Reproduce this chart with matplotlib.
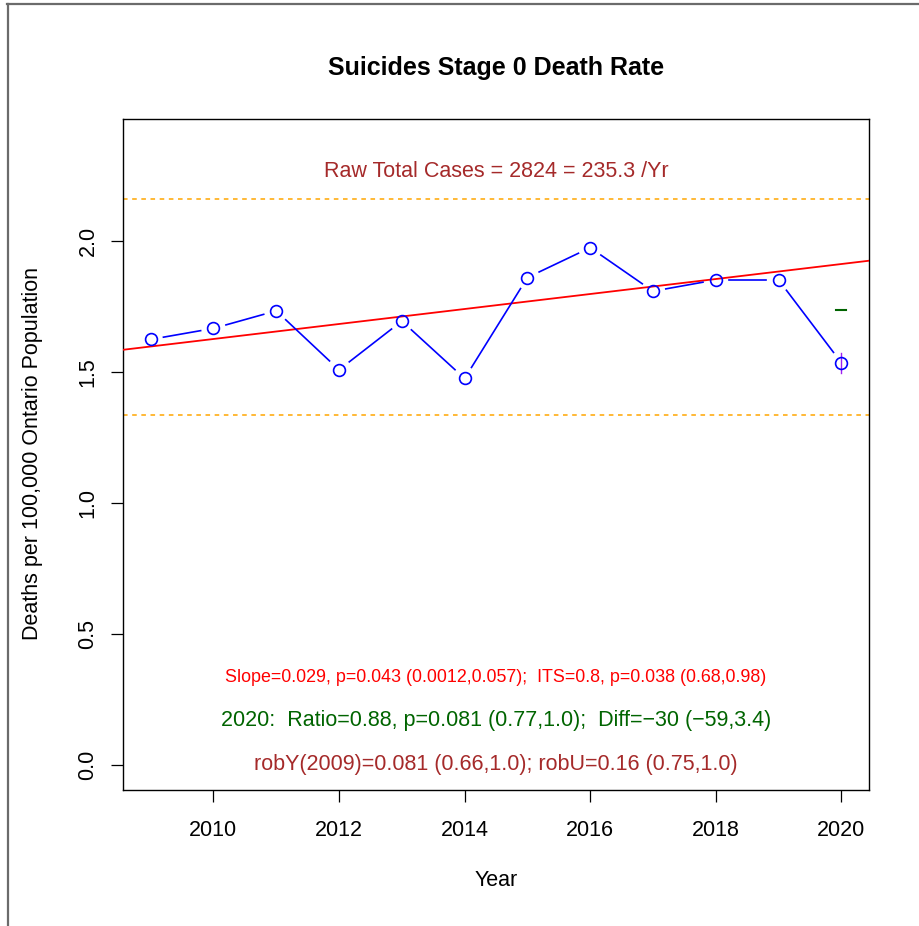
import matplotlib
matplotlib.use("Agg")
import matplotlib.pyplot as plt
from matplotlib.lines import Line2D
import numpy as np

plt.rcParams['font.family'] = ['Liberation Sans', 'DejaVu Sans']

# Annual suicide death rate per 100,000 (Stage 0)
years = [2009, 2010, 2011, 2012, 2013, 2014, 2015, 2016, 2017, 2018, 2019, 2020]
rates = [1.624, 1.666, 1.733, 1.508, 1.694, 1.475, 1.860, 1.974, 1.808, 1.851, 1.851, 1.535]

# Linear trend fitted to the pre-2020 years
trend_intercept_2009 = 1.597
trend_slope = 0.0286

# Expected 2020 value and the 2020 interval
expected_2020 = 1.735
interval_2020 = [1.495, 1.573]

# Reference band
band_lower = 1.337
band_upper = 2.159

title = "Suicides Stage 0 Death Rate"
xlabel = "Year"
ylabel = "Deaths per 100,000 Ontario Population"
x_ticks = [2010, 2012, 2014, 2016, 2018, 2020]
y_ticks = [0.0, 0.5, 1.0, 1.5, 2.0]
y_max = 2.37

txt_total = "Raw Total Cases = 2824 = 235.3 /Yr"
txt_slope = "Slope=0.029, p=0.043 (0.0012,0.057);  ITS=0.8, p=0.038 (0.68,0.98)"
txt_ratio = "2020:  Ratio=0.88, p=0.081 (0.77,1.0);  Diff=\u221230 (\u221259,3.4)"
txt_rob = "robY(2009)=0.081 (0.66,1.0); robU=0.16 (0.75,1.0)"

W, H = 919, 926
DPI = 100
FS = 15.5
fig = plt.figure(figsize=(W / DPI, H / DPI), dpi=DPI)

# plotting region in pixels: left, right, top, bottom
L, R, T, B = 123, 869, 119, 790
ax = fig.add_axes([L / W, 1 - B / H, (R - L) / W, (B - T) / H])

# R-style 4% padding around the data range
x0, x1 = min(years), max(years)
dx = 0.04 * (x1 - x0)
ax.set_xlim(x0 - dx, x1 + dx)
dy = 0.04 * y_max
ax.set_ylim(0 - dy, y_max + dy)

# reference band (dashed orange)
ax.axhline(band_upper, color='#FFA500', lw=1.1, ls=(0, (3, 3)))
ax.axhline(band_lower, color='#FFA500', lw=1.1, ls=(0, (3, 3)))

# trend line across the whole panel
xl = np.array(ax.get_xlim())
ax.plot(xl, trend_intercept_2009 + trend_slope * (xl - 2009), color='#FF0000', lw=1.3, zorder=3)

# points joined by segments with gaps around the markers
fig.canvas.draw()
disp = ax.transData.transform(np.column_stack([years, rates]))
gap = 13.0
inv = ax.transData.inverted()
for i in range(len(years) - 1):
    p, q = disp[i], disp[i + 1]
    d = q - p
    n = np.hypot(*d)
    if n <= 2 * gap:
        continue
    u = d / n
    a = inv.transform(p + u * gap)
    b = inv.transform(q - u * gap)
    ax.plot([a[0], b[0]], [a[1], b[1]], color='#0000FF', lw=1.2, zorder=4)

ax.plot(years, rates, ls='none', marker='o', ms=8.5, mfc='none', mec='#0000FF', mew=1.2, zorder=5)

# 2020 interval and expected value
ax.plot([years[-1], years[-1]], interval_2020, color='#A020F0', lw=1.0, zorder=4)
ax.plot([years[-1] - 0.08, years[-1] + 0.08], [expected_2020, expected_2020], color='#006400', lw=1.5, zorder=4)

xc = (x0 + x1) / 2
ax.text(xc, 2.265, txt_total, color='#A52A2A', fontsize=FS, ha='center', va='center')
ax.text(xc, 0.333, txt_slope, color='#FF0000', fontsize=12.9, ha='center', va='center')
ax.text(xc, 0.172, txt_ratio, color='#006400', fontsize=FS, ha='center', va='center')
ax.text(xc, 0.004, txt_rob, color='#A52A2A', fontsize=FS, ha='center', va='center')

ax.set_xticks(x_ticks)
ax.set_xticklabels([str(v) for v in x_ticks])
ax.set_yticks(y_ticks)
ax.set_yticklabels([f"{v:.1f}" for v in y_ticks], rotation=90, va='center')
ax.tick_params(axis='both', length=8.6, width=0.9, labelsize=FS, colors='black')
ax.tick_params(axis='x', pad=13)
ax.tick_params(axis='y', pad=9)
for s in ax.spines.values():
    s.set_linewidth(1.0)
    s.set_color('black')

fig.text((L + R) / 2 / W, 1 - 68 / H, title, fontsize=18, fontweight='bold', ha='center', va='center')
fig.text((L + R) / 2 / W, 1 - 880 / H, xlabel, fontsize=FS, ha='center', va='center')
fig.text(33 / W, 1 - 454 / H, ylabel, fontsize=FS, rotation=90, ha='center', va='center')

# outer frame (top and left edges)
fig.add_artist(Line2D([7 / W, 1], [1 - 4 / H, 1 - 4 / H], transform=fig.transFigure, color='#6b6b6b', lw=1.6))
fig.add_artist(Line2D([7.5 / W, 7.5 / W], [0, 1 - 4 / H], transform=fig.transFigure, color='#6b6b6b', lw=1.6))

fig.savefig("out.png", dpi=DPI, facecolor='white')
